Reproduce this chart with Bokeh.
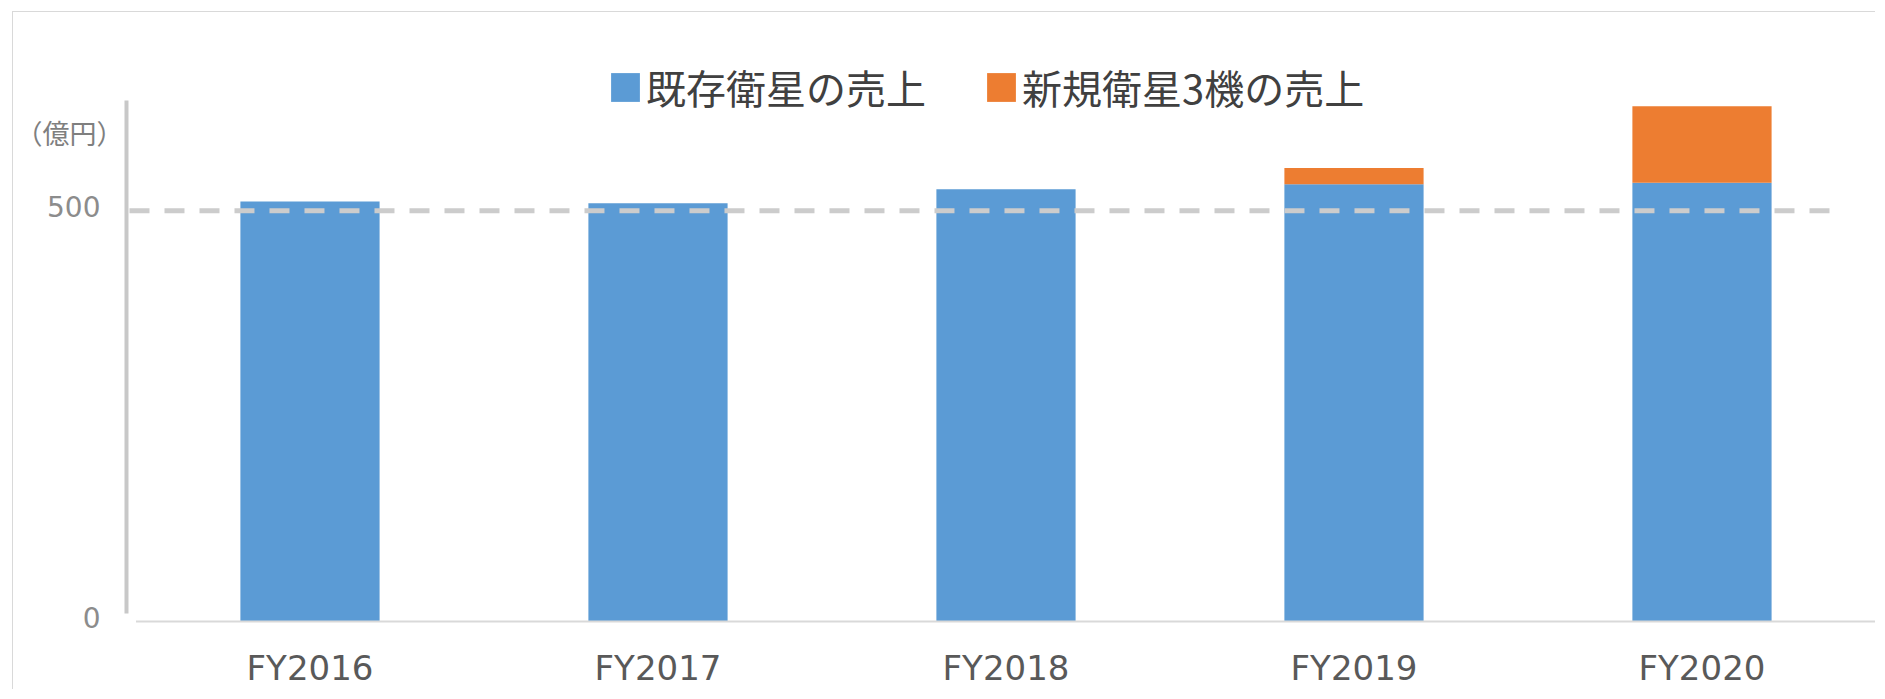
from bokeh.plotting import figure
from bokeh.models import Range1d, FixedTicker, Label, Legend, LegendItem, ColumnDataSource
from bokeh.embed import file_html
from bokeh.resources import INLINE

# ---- data ----
categories = ["FY2016", "FY2017", "FY2018", "FY2019", "FY2020"]
existing_sales = [511, 509, 526, 532, 534]
new_sat_sales = [0, 0, 0, 20, 93]
series_names = ["既存衛星の売上", "新規衛星3機の売上"]
series_colors = ["#5B9BD5", "#ED7D31"]
y_ticks = [0, 500]
y_tick_labels = ["0", "500"]
ref_value = 500
y_unit = "（億円）"
y_unit_pos = 595

xs = list(range(1, len(categories) + 1))
source = ColumnDataSource(dict(x=xs, existing=existing_sales, new=new_sat_sales))

p = figure(width=1863, height=678, output_backend="svg", toolbar_location=None,
           x_range=Range1d(0.148, 5.4986), y_range=Range1d(-23.1, 741.1),
           y_axis_location=None,
           min_border_left=0, min_border_right=1, min_border_top=0, min_border_bottom=50)
p.styles = {"margin-left": "12px", "margin-top": "11px",
            "border-left": "1px solid #d9d9d9", "border-top": "1px solid #d9d9d9"}
p.outline_line_color = None
p.xgrid.visible = False
p.ygrid.visible = False
p.background_fill_color = "white"
p.border_fill_color = "white"

rs = p.vbar_stack(["existing", "new"], x="x", width=0.4, source=source,
                  fill_color=series_colors, line_color=None)

# category baseline
p.segment(x0=[0.5], y0=[0], x1=[5.5], y1=[0], line_color="#d9d9d9", line_width=2)

# reference dashed line at 500
p.line(x=[0.4813, 5.398], y=[ref_value, ref_value], line_color="#cccccc",
       line_width=5, line_dash="20 15")

# vertical value-axis line
p.segment(x0=[0.4727], y0=[9.7], x1=[0.4727], y1=[634], line_color="#c8c8c8", line_width=4)

# value-axis tick labels placed on the y scale
p.text(x=[0.398] * len(y_ticks), y=y_ticks, text=y_tick_labels,
       text_align="right", text_baseline="middle", y_offset=-4,
       text_font={"value": "DejaVu Sans"}, text_font_size="28px", text_color="#8c8c8c")

# unit label
p.add_layout(Label(x=0.4641, y=y_unit_pos, text=y_unit, text_align="right", text_baseline="middle",
                   text_font="Noto Sans CJK JP", text_font_size="27px", text_color="#7f7f7f"))

# category axis
xa = p.xaxis[0]
xa.ticker = FixedTicker(ticks=xs)
xa.major_label_overrides = {x: c for x, c in zip(xs, categories)}
xa.major_tick_line_color = None
xa.minor_tick_line_color = None
xa.major_tick_out = 0
xa.axis_line_color = None
xa.major_label_text_font = "DejaVu Sans"
xa.major_label_text_font_size = "34px"
xa.major_label_text_color = "#595959"
xa.major_label_standoff = 7

legend = Legend(items=[LegendItem(label=series_names[0], renderers=[rs[0]]),
                       LegendItem(label=series_names[1], renderers=[rs[1]])],
                orientation="horizontal", location=(594, 524),
                glyph_width=36, glyph_height=36, label_standoff=3, spacing=57,
                padding=0, margin=0, border_line_color=None, background_fill_alpha=0,
                label_text_font="Noto Sans CJK JP", label_text_font_size="40px",
                label_text_color="#404040")
p.add_layout(legend)

open("out.html", "w").write(file_html(p, INLINE))
